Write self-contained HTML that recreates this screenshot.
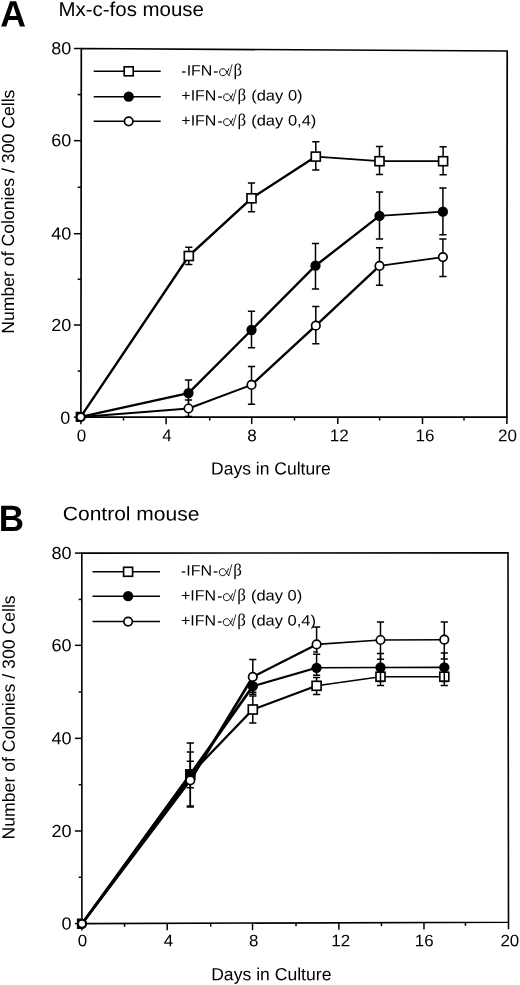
<!DOCTYPE html>
<html><head><meta charset="utf-8"><title>Figure</title>
<style>
html,body{margin:0;padding:0;background:#fff;}
body{width:520px;height:985px;overflow:hidden;}
svg{display:block;will-change:transform;filter:grayscale(1);}
text{font-family:"Liberation Sans", sans-serif;fill:#000;text-rendering:geometricPrecision;}
.g{font-family:"Liberation Serif", serif;}
</style></head>
<body>
<svg width="520" height="985" viewBox="0 0 520 985">
<rect width="520" height="985" fill="#fff"/>
<path d="M81.3 48.5L507.2 51L506.9 417.05L80.9 417.15Z" fill="none" stroke="#000" stroke-width="1.7" stroke-linejoin="miter"/>
<line x1="73.9" y1="417.15" x2="80.9" y2="417.15" stroke="#000" stroke-width="1.5"/>
<text transform="translate(70.4 423.75) rotate(0.05) scale(1.03 1)" font-size="17.5" text-anchor="end" font-weight="normal" >0</text>
<line x1="77.7" y1="371.07" x2="80.9" y2="371.07" stroke="#000" stroke-width="1.5"/>
<line x1="73.9" y1="324.99" x2="80.9" y2="324.99" stroke="#000" stroke-width="1.5"/>
<text transform="translate(71.2 331.09) rotate(0.05) scale(1.03 1)" font-size="17.5" text-anchor="end" font-weight="normal" >20</text>
<line x1="77.7" y1="279.31" x2="80.9" y2="279.31" stroke="#000" stroke-width="1.5"/>
<line x1="73.9" y1="233.72" x2="80.9" y2="233.72" stroke="#000" stroke-width="1.5"/>
<text transform="translate(71.2 239.42) rotate(0.05) scale(1.03 1)" font-size="17.5" text-anchor="end" font-weight="normal" >40</text>
<line x1="77.7" y1="187.24" x2="80.9" y2="187.24" stroke="#000" stroke-width="1.5"/>
<line x1="73.9" y1="140.66" x2="80.9" y2="140.66" stroke="#000" stroke-width="1.5"/>
<text transform="translate(71.2 146.36) rotate(0.05) scale(1.03 1)" font-size="17.5" text-anchor="end" font-weight="normal" >60</text>
<line x1="77.7" y1="94.58" x2="80.9" y2="94.58" stroke="#000" stroke-width="1.5"/>
<line x1="73.9" y1="48.5" x2="80.9" y2="48.5" stroke="#000" stroke-width="1.5"/>
<text transform="translate(71.2 54.2) rotate(0.05) scale(1.03 1)" font-size="17.5" text-anchor="end" font-weight="normal" >80</text>
<line x1="80.9" y1="417.15" x2="80.9" y2="424.15" stroke="#000" stroke-width="1.5"/>
<text transform="translate(81.4 441.3) rotate(0.05)" font-size="17.0" text-anchor="middle" font-weight="normal" >0</text>
<line x1="123.5" y1="417.14" x2="123.5" y2="420.54" stroke="#000" stroke-width="1.5"/>
<line x1="166.1" y1="417.13" x2="166.1" y2="424.13" stroke="#000" stroke-width="1.5"/>
<text transform="translate(167.1 441.3) rotate(0.05)" font-size="17.0" text-anchor="middle" font-weight="normal" >4</text>
<line x1="209.7" y1="417.12" x2="209.7" y2="420.52" stroke="#000" stroke-width="1.5"/>
<line x1="251.7" y1="417.11" x2="251.7" y2="424.11" stroke="#000" stroke-width="1.5"/>
<text transform="translate(252 441.3) rotate(0.05)" font-size="17.0" text-anchor="middle" font-weight="normal" >8</text>
<line x1="294.5" y1="417.1" x2="294.5" y2="420.5" stroke="#000" stroke-width="1.5"/>
<line x1="337.8" y1="417.09" x2="337.8" y2="424.09" stroke="#000" stroke-width="1.5"/>
<text transform="translate(339.2 441.3) rotate(0.05)" font-size="17.0" text-anchor="middle" font-weight="normal" >12</text>
<line x1="379.6" y1="417.08" x2="379.6" y2="420.48" stroke="#000" stroke-width="1.5"/>
<line x1="422.5" y1="417.07" x2="422.5" y2="424.07" stroke="#000" stroke-width="1.5"/>
<text transform="translate(424.9 441.3) rotate(0.05)" font-size="17.0" text-anchor="middle" font-weight="normal" >16</text>
<line x1="464" y1="417.06" x2="464" y2="420.46" stroke="#000" stroke-width="1.5"/>
<line x1="506.9" y1="417.05" x2="506.9" y2="424.05" stroke="#000" stroke-width="1.5"/>
<text transform="translate(507.4 441.3) rotate(0.05)" font-size="17.0" text-anchor="middle" font-weight="normal" >20</text>
<line x1="93.7" y1="71.3" x2="160.7" y2="71.3" stroke="#000" stroke-width="1.5"/>
<rect x="124.2" y="66.8" width="9" height="9" fill="#fff" stroke="#000" stroke-width="1.65"/>
<line x1="93.7" y1="96.7" x2="160.7" y2="96.7" stroke="#000" stroke-width="1.5"/>
<circle cx="128.7" cy="96.7" r="5.15" fill="#000"/>
<line x1="93.7" y1="121.3" x2="160.7" y2="121.3" stroke="#000" stroke-width="1.5"/>
<circle cx="128.7" cy="121.3" r="4.25" fill="#fff" stroke="#000" stroke-width="1.7"/>
<line x1="182" y1="72" x2="185.6" y2="72" stroke="#000" stroke-width="1.3"/>
<text transform="translate(186.63 75.4) rotate(0.05) scale(1.067 1)" font-size="15" text-anchor="start" font-weight="normal" >IFN</text>
<line x1="213.9" y1="72" x2="217.6" y2="72" stroke="#000" stroke-width="1.3"/>
<path transform="translate(219.1 75.7)" d="M9.7 -7C8.7 -4.4 7.6 -2.2 6.3 -1C5.5 -0.3 4.7 0 3.9 0C1.8 0 0.5 -1.5 0.5 -3.5C0.5 -5.5 1.8 -7 3.9 -7C5.2 -7 6.2 -6.2 7 -4.8C7.8 -3.4 8.4 -1.2 9.9 -0.1" fill="none" stroke="#000" stroke-width="0.95" stroke-linecap="round"/>
<line x1="229" y1="76" x2="232.1" y2="64.4" stroke="#000" stroke-width="0.8"/>
<text transform="translate(233.6 75.4) rotate(0.05)" font-size="17" class="g">β</text>
<text transform="translate(181.3 100.5) rotate(0.05) scale(1.067 1)" font-size="15" text-anchor="start" font-weight="normal" >+IFN</text>
<line x1="218.2" y1="97.1" x2="221.9" y2="97.1" stroke="#000" stroke-width="1.3"/>
<path transform="translate(223.1 100.8)" d="M9.7 -7C8.7 -4.4 7.6 -2.2 6.3 -1C5.5 -0.3 4.7 0 3.9 0C1.8 0 0.5 -1.5 0.5 -3.5C0.5 -5.5 1.8 -7 3.9 -7C5.2 -7 6.2 -6.2 7 -4.8C7.8 -3.4 8.4 -1.2 9.9 -0.1" fill="none" stroke="#000" stroke-width="0.95" stroke-linecap="round"/>
<line x1="233" y1="101.1" x2="236.1" y2="89.5" stroke="#000" stroke-width="0.8"/>
<text transform="translate(237.6 100.5) rotate(0.05)" font-size="17" class="g">β</text>
<text transform="translate(251.2 100.5) rotate(0.05) scale(1.1 1)" font-size="15" text-anchor="start" font-weight="normal" >(day 0)</text>
<text transform="translate(181.3 125.4) rotate(0.05) scale(1.067 1)" font-size="15" text-anchor="start" font-weight="normal" >+IFN</text>
<line x1="218.2" y1="122" x2="221.9" y2="122" stroke="#000" stroke-width="1.3"/>
<path transform="translate(223.1 125.7)" d="M9.7 -7C8.7 -4.4 7.6 -2.2 6.3 -1C5.5 -0.3 4.7 0 3.9 0C1.8 0 0.5 -1.5 0.5 -3.5C0.5 -5.5 1.8 -7 3.9 -7C5.2 -7 6.2 -6.2 7 -4.8C7.8 -3.4 8.4 -1.2 9.9 -0.1" fill="none" stroke="#000" stroke-width="0.95" stroke-linecap="round"/>
<line x1="233" y1="126" x2="236.1" y2="114.4" stroke="#000" stroke-width="0.8"/>
<text transform="translate(237.6 125.4) rotate(0.05)" font-size="17" class="g">β</text>
<text transform="translate(251.2 125.4) rotate(0.05) scale(1.1 1)" font-size="15" text-anchor="start" font-weight="normal" >(day 0,4)</text>
<line x1="80.7" y1="416.9" x2="188.8" y2="256" stroke="#000" stroke-width="2.4" stroke-linecap="round"/>
<line x1="188.8" y1="256" x2="251.5" y2="198.3" stroke="#000" stroke-width="2.4" stroke-linecap="round"/>
<line x1="251.5" y1="198.3" x2="315.8" y2="156.6" stroke="#000" stroke-width="2.4" stroke-linecap="round"/>
<line x1="315.8" y1="156.6" x2="379.5" y2="161.2" stroke="#000" stroke-width="1.8" stroke-linecap="round"/>
<line x1="379.5" y1="161.2" x2="443.1" y2="161.2" stroke="#000" stroke-width="1.8" stroke-linecap="round"/>
<line x1="80.7" y1="416.9" x2="188.5" y2="393.1" stroke="#000" stroke-width="2.2" stroke-linecap="round"/>
<line x1="188.5" y1="393.1" x2="251.5" y2="330" stroke="#000" stroke-width="2.4" stroke-linecap="round"/>
<line x1="251.5" y1="330" x2="315.5" y2="265.7" stroke="#000" stroke-width="2.4" stroke-linecap="round"/>
<line x1="315.5" y1="265.7" x2="379.5" y2="215.9" stroke="#000" stroke-width="2.4" stroke-linecap="round"/>
<line x1="379.5" y1="215.9" x2="442.9" y2="211.7" stroke="#000" stroke-width="1.8" stroke-linecap="round"/>
<line x1="80.7" y1="416.9" x2="188.5" y2="408.5" stroke="#000" stroke-width="2.0" stroke-linecap="round"/>
<line x1="188.5" y1="408.5" x2="251.5" y2="384.9" stroke="#000" stroke-width="2.0" stroke-linecap="round"/>
<line x1="251.5" y1="384.9" x2="315.8" y2="325.7" stroke="#000" stroke-width="2.4" stroke-linecap="round"/>
<line x1="315.8" y1="325.7" x2="379.5" y2="265.9" stroke="#000" stroke-width="2.4" stroke-linecap="round"/>
<line x1="379.5" y1="265.9" x2="442.9" y2="257.1" stroke="#000" stroke-width="1.8" stroke-linecap="round"/>
<path d="M188.8 247.3V264.6M185.2 247.3H192.4M185.2 264.6H192.4" stroke="#000" stroke-width="1.5" fill="none"/>
<path d="M251.5 183V211.8M247.9 183H255.1M247.9 211.8H255.1" stroke="#000" stroke-width="1.5" fill="none"/>
<path d="M315.8 141.7V170M312.2 141.7H319.4M312.2 170H319.4" stroke="#000" stroke-width="1.5" fill="none"/>
<path d="M379.5 146.4V174.5M375.9 146.4H383.1M375.9 174.5H383.1" stroke="#000" stroke-width="1.5" fill="none"/>
<path d="M443.1 146.7V174.8M439.5 146.7H446.7M439.5 174.8H446.7" stroke="#000" stroke-width="1.5" fill="none"/>
<rect x="184.3" y="251.5" width="9" height="9" fill="#fff" stroke="#000" stroke-width="1.65"/>
<rect x="247" y="193.8" width="9" height="9" fill="#fff" stroke="#000" stroke-width="1.65"/>
<rect x="311.3" y="152.1" width="9" height="9" fill="#fff" stroke="#000" stroke-width="1.65"/>
<rect x="375" y="156.7" width="9" height="9" fill="#fff" stroke="#000" stroke-width="1.65"/>
<rect x="438.6" y="156.7" width="9" height="9" fill="#fff" stroke="#000" stroke-width="1.65"/>
<path d="M188.5 380V407M184.9 380H192.1M184.9 407H192.1" stroke="#000" stroke-width="1.5" fill="none"/>
<path d="M251.5 311.2V347.7M247.9 311.2H255.1M247.9 347.7H255.1" stroke="#000" stroke-width="1.5" fill="none"/>
<path d="M315.5 243.4V288.9M311.9 243.4H319.1M311.9 288.9H319.1" stroke="#000" stroke-width="1.5" fill="none"/>
<path d="M379.5 192.1V239M375.9 192.1H383.1M375.9 239H383.1" stroke="#000" stroke-width="1.5" fill="none"/>
<path d="M442.9 188.1V234.8M439.3 188.1H446.5M439.3 234.8H446.5" stroke="#000" stroke-width="1.5" fill="none"/>
<circle cx="188.5" cy="393.1" r="5.15" fill="#000"/>
<circle cx="251.5" cy="330" r="5.15" fill="#000"/>
<circle cx="315.5" cy="265.7" r="5.15" fill="#000"/>
<circle cx="379.5" cy="215.9" r="5.15" fill="#000"/>
<circle cx="442.9" cy="211.7" r="5.15" fill="#000"/>
<path d="M188.5 400V416.5M184.9 400H192.1M184.9 416.5H192.1" stroke="#000" stroke-width="1.5" fill="none"/>
<path d="M251.5 366.5V404.2M247.9 366.5H255.1M247.9 404.2H255.1" stroke="#000" stroke-width="1.5" fill="none"/>
<path d="M315.8 306.5V343.8M312.2 306.5H319.4M312.2 343.8H319.4" stroke="#000" stroke-width="1.5" fill="none"/>
<path d="M379.5 247.8V285.2M375.9 247.8H383.1M375.9 285.2H383.1" stroke="#000" stroke-width="1.5" fill="none"/>
<path d="M442.9 239V276.6M439.3 239H446.5M439.3 276.6H446.5" stroke="#000" stroke-width="1.5" fill="none"/>
<circle cx="188.5" cy="408.5" r="4.25" fill="#fff" stroke="#000" stroke-width="1.7"/>
<circle cx="251.5" cy="384.9" r="4.25" fill="#fff" stroke="#000" stroke-width="1.7"/>
<circle cx="315.8" cy="325.7" r="4.25" fill="#fff" stroke="#000" stroke-width="1.7"/>
<circle cx="379.5" cy="265.9" r="4.25" fill="#fff" stroke="#000" stroke-width="1.7"/>
<circle cx="442.9" cy="257.1" r="4.25" fill="#fff" stroke="#000" stroke-width="1.7"/>
<path d="M80.7 411.7H75.6V422.1H80.7A5.2 5.2 0 0 0 80.7 411.7Z" fill="#000"/>
<circle cx="80.7" cy="416.9" r="3.0" fill="#fff"/>
<path d="M81.8 553.1L508 552.8L508.5 922.3L81.9 923.6Z" fill="none" stroke="#000" stroke-width="1.6" stroke-linejoin="miter"/>
<line x1="74.9" y1="923.6" x2="81.9" y2="923.6" stroke="#000" stroke-width="1.5"/>
<text transform="translate(71.6 929.6) rotate(0.05) scale(1.03 1)" font-size="17.5" text-anchor="end" font-weight="normal" >0</text>
<line x1="78.7" y1="877.29" x2="81.9" y2="877.29" stroke="#000" stroke-width="1.5"/>
<line x1="74.9" y1="830.98" x2="81.9" y2="830.98" stroke="#000" stroke-width="1.5"/>
<text transform="translate(71.6 836.98) rotate(0.05) scale(1.03 1)" font-size="17.5" text-anchor="end" font-weight="normal" >20</text>
<line x1="78.7" y1="784.66" x2="81.9" y2="784.66" stroke="#000" stroke-width="1.5"/>
<line x1="74.9" y1="738.35" x2="81.9" y2="738.35" stroke="#000" stroke-width="1.5"/>
<text transform="translate(71.6 744.35) rotate(0.05) scale(1.03 1)" font-size="17.5" text-anchor="end" font-weight="normal" >40</text>
<line x1="78.7" y1="692.04" x2="81.9" y2="692.04" stroke="#000" stroke-width="1.5"/>
<line x1="74.9" y1="645.33" x2="81.9" y2="645.33" stroke="#000" stroke-width="1.5"/>
<text transform="translate(71.6 651.33) rotate(0.05) scale(1.03 1)" font-size="17.5" text-anchor="end" font-weight="normal" >60</text>
<line x1="78.7" y1="599.41" x2="81.9" y2="599.41" stroke="#000" stroke-width="1.5"/>
<line x1="74.9" y1="553.1" x2="81.9" y2="553.1" stroke="#000" stroke-width="1.5"/>
<text transform="translate(71.6 559.1) rotate(0.05) scale(1.03 1)" font-size="17.5" text-anchor="end" font-weight="normal" >80</text>
<line x1="81.9" y1="923.6" x2="81.9" y2="930.6" stroke="#000" stroke-width="1.5"/>
<text transform="translate(82.4 946.3) rotate(0.05) scale(1.02 1)" font-size="16.6" text-anchor="middle" font-weight="normal" >0</text>
<line x1="124.56" y1="923.47" x2="124.56" y2="926.87" stroke="#000" stroke-width="1.5"/>
<line x1="167.22" y1="923.34" x2="167.22" y2="930.34" stroke="#000" stroke-width="1.5"/>
<text transform="translate(168.42 946.3) rotate(0.05) scale(1.02 1)" font-size="16.6" text-anchor="middle" font-weight="normal" >4</text>
<line x1="210.68" y1="923.21" x2="210.68" y2="926.61" stroke="#000" stroke-width="1.5"/>
<line x1="252.54" y1="923.08" x2="252.54" y2="930.08" stroke="#000" stroke-width="1.5"/>
<text transform="translate(253.74 946.3) rotate(0.05) scale(1.02 1)" font-size="16.6" text-anchor="middle" font-weight="normal" >8</text>
<line x1="296" y1="922.95" x2="296" y2="926.35" stroke="#000" stroke-width="1.5"/>
<line x1="338.86" y1="922.82" x2="338.86" y2="929.82" stroke="#000" stroke-width="1.5"/>
<text transform="translate(340.66 946.3) rotate(0.05) scale(1.02 1)" font-size="16.6" text-anchor="middle" font-weight="normal" >12</text>
<line x1="381.42" y1="922.69" x2="381.42" y2="926.09" stroke="#000" stroke-width="1.5"/>
<line x1="423.98" y1="922.56" x2="423.98" y2="929.56" stroke="#000" stroke-width="1.5"/>
<text transform="translate(424.28 946.3) rotate(0.05) scale(1.02 1)" font-size="16.6" text-anchor="middle" font-weight="normal" >16</text>
<line x1="465.44" y1="922.43" x2="465.44" y2="925.83" stroke="#000" stroke-width="1.5"/>
<line x1="508.5" y1="922.3" x2="508.5" y2="929.3" stroke="#000" stroke-width="1.5"/>
<text transform="translate(509.8 946.3) rotate(0.05) scale(1.02 1)" font-size="16.6" text-anchor="middle" font-weight="normal" >20</text>
<line x1="92.5" y1="571.8" x2="160" y2="571.8" stroke="#000" stroke-width="1.5"/>
<rect x="123.6" y="567.3" width="9" height="9" fill="#fff" stroke="#000" stroke-width="1.65"/>
<line x1="92.5" y1="596.2" x2="160" y2="596.2" stroke="#000" stroke-width="1.5"/>
<circle cx="128.1" cy="596.2" r="5.15" fill="#000"/>
<line x1="92.5" y1="621.6" x2="160" y2="621.6" stroke="#000" stroke-width="1.5"/>
<circle cx="128.1" cy="621.6" r="4.25" fill="#fff" stroke="#000" stroke-width="1.7"/>
<line x1="181.7" y1="572" x2="185.3" y2="572" stroke="#000" stroke-width="1.3"/>
<text transform="translate(186.33 575.4) rotate(0.05) scale(1.067 1)" font-size="15" text-anchor="start" font-weight="normal" >IFN</text>
<line x1="213.6" y1="572" x2="217.3" y2="572" stroke="#000" stroke-width="1.3"/>
<path transform="translate(218.8 575.7)" d="M9.7 -7C8.7 -4.4 7.6 -2.2 6.3 -1C5.5 -0.3 4.7 0 3.9 0C1.8 0 0.5 -1.5 0.5 -3.5C0.5 -5.5 1.8 -7 3.9 -7C5.2 -7 6.2 -6.2 7 -4.8C7.8 -3.4 8.4 -1.2 9.9 -0.1" fill="none" stroke="#000" stroke-width="0.95" stroke-linecap="round"/>
<line x1="228.7" y1="576" x2="231.8" y2="564.4" stroke="#000" stroke-width="0.8"/>
<text transform="translate(233.3 575.4) rotate(0.05)" font-size="17" class="g">β</text>
<text transform="translate(181 600.4) rotate(0.05) scale(1.067 1)" font-size="15" text-anchor="start" font-weight="normal" >+IFN</text>
<line x1="217.9" y1="597" x2="221.6" y2="597" stroke="#000" stroke-width="1.3"/>
<path transform="translate(222.8 600.7)" d="M9.7 -7C8.7 -4.4 7.6 -2.2 6.3 -1C5.5 -0.3 4.7 0 3.9 0C1.8 0 0.5 -1.5 0.5 -3.5C0.5 -5.5 1.8 -7 3.9 -7C5.2 -7 6.2 -6.2 7 -4.8C7.8 -3.4 8.4 -1.2 9.9 -0.1" fill="none" stroke="#000" stroke-width="0.95" stroke-linecap="round"/>
<line x1="232.7" y1="601" x2="235.8" y2="589.4" stroke="#000" stroke-width="0.8"/>
<text transform="translate(237.3 600.4) rotate(0.05)" font-size="17" class="g">β</text>
<text transform="translate(250.9 600.4) rotate(0.05) scale(1.1 1)" font-size="15" text-anchor="start" font-weight="normal" >(day 0)</text>
<text transform="translate(181 625.4) rotate(0.05) scale(1.067 1)" font-size="15" text-anchor="start" font-weight="normal" >+IFN</text>
<line x1="217.9" y1="622" x2="221.6" y2="622" stroke="#000" stroke-width="1.3"/>
<path transform="translate(222.8 625.7)" d="M9.7 -7C8.7 -4.4 7.6 -2.2 6.3 -1C5.5 -0.3 4.7 0 3.9 0C1.8 0 0.5 -1.5 0.5 -3.5C0.5 -5.5 1.8 -7 3.9 -7C5.2 -7 6.2 -6.2 7 -4.8C7.8 -3.4 8.4 -1.2 9.9 -0.1" fill="none" stroke="#000" stroke-width="0.95" stroke-linecap="round"/>
<line x1="232.7" y1="626" x2="235.8" y2="614.4" stroke="#000" stroke-width="0.8"/>
<text transform="translate(237.3 625.4) rotate(0.05)" font-size="17" class="g">β</text>
<text transform="translate(250.9 625.4) rotate(0.05) scale(1.1 1)" font-size="15" text-anchor="start" font-weight="normal" >(day 0,4)</text>
<line x1="82" y1="923.8" x2="190.3" y2="774.4" stroke="#000" stroke-width="2.5" stroke-linecap="round"/>
<line x1="190.3" y1="774.4" x2="252.8" y2="709.5" stroke="#000" stroke-width="2.3" stroke-linecap="round"/>
<line x1="252.8" y1="709.5" x2="316.6" y2="685.8" stroke="#000" stroke-width="2.2" stroke-linecap="round"/>
<line x1="316.6" y1="685.8" x2="380.5" y2="676.7" stroke="#000" stroke-width="1.6" stroke-linecap="round"/>
<line x1="380.5" y1="676.7" x2="444.3" y2="676.7" stroke="#000" stroke-width="1.6" stroke-linecap="round"/>
<line x1="82" y1="923.8" x2="190.3" y2="774.5" stroke="#000" stroke-width="2.5" stroke-linecap="round"/>
<line x1="190.3" y1="774.5" x2="252.8" y2="686.2" stroke="#000" stroke-width="2.8" stroke-linecap="round"/>
<line x1="252.8" y1="686.2" x2="316.6" y2="667.8" stroke="#000" stroke-width="2.2" stroke-linecap="round"/>
<line x1="316.6" y1="667.8" x2="380.5" y2="667.5" stroke="#000" stroke-width="1.6" stroke-linecap="round"/>
<line x1="380.5" y1="667.5" x2="444.3" y2="667.4" stroke="#000" stroke-width="1.6" stroke-linecap="round"/>
<line x1="82" y1="923.8" x2="190.3" y2="780.3" stroke="#000" stroke-width="2.5" stroke-linecap="round"/>
<line x1="190.3" y1="780.3" x2="252.8" y2="676.9" stroke="#000" stroke-width="2.8" stroke-linecap="round"/>
<line x1="252.8" y1="676.9" x2="316.6" y2="644.4" stroke="#000" stroke-width="2.2" stroke-linecap="round"/>
<line x1="316.6" y1="644.4" x2="380.5" y2="640" stroke="#000" stroke-width="1.6" stroke-linecap="round"/>
<line x1="380.5" y1="640" x2="444.3" y2="639.7" stroke="#000" stroke-width="1.6" stroke-linecap="round"/>
<line x1="82" y1="923.8" x2="190.3" y2="777.4" stroke="#000" stroke-width="2.0" stroke-linecap="round"/>
<line x1="313.2" y1="651.9" x2="318" y2="651.9" stroke="#000" stroke-width="1.4"/>
<path d="M190.3 761.2V787.7M186.7 761.2H193.9M186.7 787.7H193.9" stroke="#000" stroke-width="1.5" fill="none"/>
<path d="M252.8 695.9V723.1M249.2 695.9H256.4M249.2 723.1H256.4" stroke="#000" stroke-width="1.5" fill="none"/>
<path d="M316.6 677.5V694.6M313 677.5H320.2M313 694.6H320.2" stroke="#000" stroke-width="1.5" fill="none"/>
<path d="M380.5 667.7V685.6M376.9 667.7H384.1M376.9 685.6H384.1" stroke="#000" stroke-width="1.5" fill="none"/>
<path d="M444.3 667.7V685.6M440.7 667.7H447.9M440.7 685.6H447.9" stroke="#000" stroke-width="1.5" fill="none"/>
<rect x="185.8" y="769.9" width="9" height="9" fill="#fff" stroke="#000" stroke-width="1.65"/>
<rect x="248.3" y="705" width="9" height="9" fill="#fff" stroke="#000" stroke-width="1.65"/>
<rect x="312.1" y="681.3" width="9" height="9" fill="#fff" stroke="#000" stroke-width="1.65"/>
<rect x="376" y="672.2" width="9" height="9" fill="#fff" stroke="#000" stroke-width="1.65"/>
<rect x="439.8" y="672.2" width="9" height="9" fill="#fff" stroke="#000" stroke-width="1.65"/>
<path d="M190.3 743.1V806M186.7 743.1H193.9M186.7 806H193.9" stroke="#000" stroke-width="1.5" fill="none"/>
<path d="M252.8 677V692.3M249.2 677H256.4M249.2 692.3H256.4" stroke="#000" stroke-width="1.5" fill="none"/>
<path d="M316.6 654.3V675.2M313 654.3H320.2M313 675.2H320.2" stroke="#000" stroke-width="1.5" fill="none"/>
<path d="M380.5 653.4V681.4M376.9 653.4H384.1M376.9 681.4H384.1" stroke="#000" stroke-width="1.5" fill="none"/>
<path d="M444.3 653.1V681.4M440.7 653.1H447.9M440.7 681.4H447.9" stroke="#000" stroke-width="1.5" fill="none"/>
<circle cx="190.3" cy="774.5" r="5.15" fill="#000"/>
<circle cx="252.8" cy="686.2" r="5.15" fill="#000"/>
<circle cx="316.6" cy="667.8" r="5.15" fill="#000"/>
<circle cx="380.5" cy="667.5" r="5.15" fill="#000"/>
<circle cx="444.3" cy="667.4" r="5.15" fill="#000"/>
<path d="M190.3 752V806.9M186.7 752H193.9M186.7 806.9H193.9" stroke="#000" stroke-width="1.5" fill="none"/>
<path d="M252.8 659.5V694.3M249.2 659.5H256.4M249.2 694.3H256.4" stroke="#000" stroke-width="1.5" fill="none"/>
<path d="M316.6 626.9V653M313 626.9H320.2" stroke="#000" stroke-width="1.5" fill="none"/>
<path d="M380.5 621.9V659.3M376.9 621.9H384.1M376.9 659.3H384.1" stroke="#000" stroke-width="1.5" fill="none"/>
<path d="M444.3 621.9V659.1M440.7 621.9H447.9M440.7 659.1H447.9" stroke="#000" stroke-width="1.5" fill="none"/>
<circle cx="190.3" cy="780.3" r="4.25" fill="#fff" stroke="#000" stroke-width="1.7"/>
<circle cx="252.8" cy="676.9" r="4.25" fill="#fff" stroke="#000" stroke-width="1.7"/>
<circle cx="316.6" cy="644.4" r="4.25" fill="#fff" stroke="#000" stroke-width="1.7"/>
<circle cx="380.5" cy="640" r="4.25" fill="#fff" stroke="#000" stroke-width="1.7"/>
<circle cx="444.3" cy="639.7" r="4.25" fill="#fff" stroke="#000" stroke-width="1.7"/>
<path d="M82 918.6H76.9V929H82A5.2 5.2 0 0 0 82 918.6Z" fill="#000"/>
<circle cx="82" cy="923.8" r="3.0" fill="#fff"/>
<text transform="translate(0.3 26.4) rotate(0.05) scale(0.968 1)" font-size="36.8" text-anchor="start" font-weight="bold" >A</text>
<text transform="translate(-1.3 531.1) rotate(0.05) scale(0.958 1)" font-size="36.6" text-anchor="start" font-weight="bold" >B</text>
<text transform="translate(58.5 15.9) rotate(0.05) scale(1.022 1)" font-size="20.0" text-anchor="start" font-weight="normal" >Mx-c-fos mouse</text>
<text transform="translate(62.8 520.3) rotate(0.05) scale(1.077 1)" font-size="19.5" text-anchor="start" font-weight="normal" >Control mouse</text>
<text transform="translate(270.9 474.5) rotate(0.05)" font-size="17.5" text-anchor="middle" font-weight="normal" >Days in Culture</text>
<text transform="translate(271.3 980.2) rotate(0.05)" font-size="17.6" text-anchor="middle" font-weight="normal" >Days in Culture</text>
<text transform="translate(14.1 211.7) rotate(-89.96)" font-size="17.65" text-anchor="middle">Number of Colonies / 300 Cells</text>
<text transform="translate(14.7 717.4) rotate(-89.96)" font-size="17.65" text-anchor="middle">Number of Colonies / 300 Cells</text>
</svg>
</body></html>
